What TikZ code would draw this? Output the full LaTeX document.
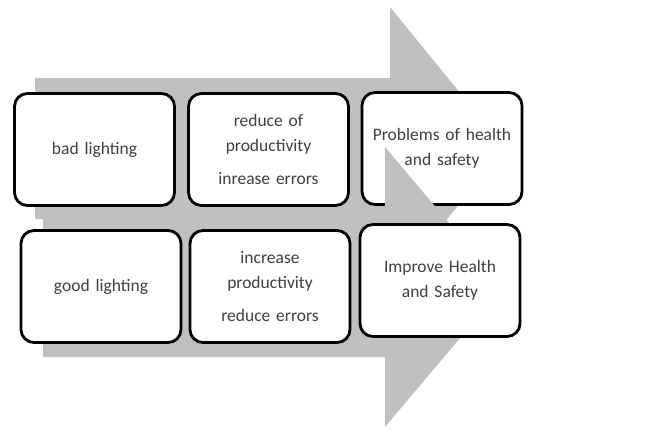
\documentclass[tikz,border=0pt]{standalone}
\usepackage{fontspec}
\setmainfont{Carlito}
\usepackage{tikz}

\definecolor{arrowgray}{HTML}{C0C0C0}
\definecolor{textgray}{HTML}{404040}

\tikzset{
	cell/.style={shape=rectangle, rounded corners=13pt, draw=black, line width=2.8pt,
		fill=white, minimum width=160pt, minimum height=112pt, text width=150pt,
		align=center, text=textgray, font=\fontsize{17.5}{25}\selectfont}
}

\begin{document}
\begin{tikzpicture}[x=1pt,y=-1pt]
	
	\useasboundingbox (0,0) rectangle (650,429);
	
	% upper arrow
	\fill[arrowgray] (35,78) -- (390,78) -- (390,7) -- (505,148) -- (390,289)
		-- (390,219) -- (35,219) -- cycle;
	
	\node[cell] (bad)  at (94.5,149.5) {bad lighting};
	\node[cell] (less) at (268.5,149.5) {reduce of\\productivity\\[8pt]inrease errors};
	\node[cell] (prob) at (442,148.5)  {Problems of health\\and safety};
	
	% lower arrow
	\fill[arrowgray] (43,217) -- (385,217) -- (385,147) -- (503,287) -- (385,427)
		-- (385,357) -- (43,357) -- cycle;
	
	\node[cell] (good) at (101,286.5) {good lighting};
	\node[cell] (more) at (270,286.5) {increase\\productivity\\[8pt]reduce errors};
	\node[cell] (impr) at (440,280.5) {Improve Health\\and Safety};
	
\end{tikzpicture}
\end{document}
